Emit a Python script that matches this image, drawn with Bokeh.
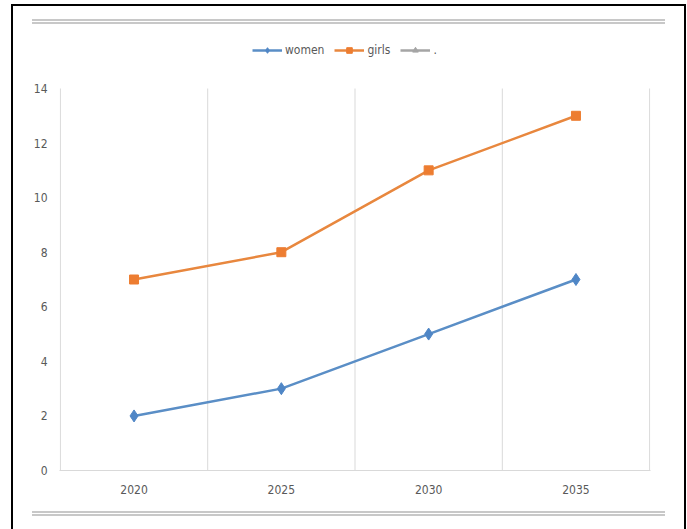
from bokeh.plotting import figure
from bokeh.models import (FixedTicker, Legend, LegendItem, Range1d, InlineStyleSheet)
from bokeh.embed import file_html
from bokeh.resources import INLINE

nan = float("nan")

# ---- data ----
years = ["2020", "2025", "2030", "2035"]
women = [2, 3, 5, 7]
girls = [7, 8, 11, 13]
third_series = [nan, nan, nan, nan]   # the "." series has no values
series_names = ["women", "girls", "."]
y_ticks = [0, 2, 4, 6, 8, 10, 12, 14]

FONT = "DejaVu Sans Condensed"
LABEL_COLOR = "#595959"
GRID = "#d9d9d9"

xs = [i + 0.5 for i in range(len(years))]
y_max = y_ticks[-1]
# the frame reaches above the value area so that the legend fits inside it
y_top = y_max * 440.0 / 382.0

p = figure(width=687, height=529, output_backend="svg", toolbar_location=None,
           x_range=Range1d(-0.006, len(years) + 0.006), y_range=Range1d(0, y_top),
           min_border_left=59, min_border_right=37, min_border_top=30,
           min_border_bottom=59)
p.outline_line_color = None
p.background_fill_color = "white"
p.border_fill_color = "white"
p.xgrid.grid_line_color = None
p.ygrid.grid_line_color = None

# vertical separators between categories, from 0 up to the top value
bounds = list(range(len(years) + 1))
p.segment(x0=bounds, y0=[0] * len(bounds), x1=bounds, y1=[y_max] * len(bounds),
          line_color=GRID, line_width=1)

# x axis
p.xaxis.ticker = FixedTicker(ticks=xs)
p.xaxis.major_label_overrides = {x: y for x, y in zip(xs, years)}
p.xaxis.axis_line_color = GRID
p.xaxis.major_tick_line_color = None
p.xaxis.minor_tick_line_color = None
p.xaxis.major_tick_out = 0
p.xaxis.major_tick_in = 0
p.xaxis.major_label_standoff = 14
p.xaxis.major_label_text_font = FONT
p.xaxis.major_label_text_font_size = "12px"
p.xaxis.major_label_text_color = LABEL_COLOR

# y axis
p.yaxis.ticker = FixedTicker(ticks=y_ticks)
p.yaxis.axis_line_color = None
p.yaxis.major_tick_line_color = None
p.yaxis.minor_tick_line_color = None
p.yaxis.major_tick_out = 0
p.yaxis.major_tick_in = 0
p.yaxis.major_label_standoff = 12
p.yaxis.major_label_text_font = FONT
p.yaxis.major_label_text_font_size = "12px"
p.yaxis.major_label_text_color = LABEL_COLOR

# series
l1 = p.line(xs, women, line_color="#5A8EC6", line_width=2.5)
m1 = p.scatter(xs, women, marker="diamond", size=12, fill_color="#4F86C6",
               line_color="#4F86C6")
l2 = p.line(xs, girls, line_color="#E8873E", line_width=2.5)
m2 = p.scatter(xs, girls, marker="square", size=9, fill_color="#ED7D31",
               line_color="#ED7D31")
l3 = p.line(xs, third_series, line_color="#A5A5A5", line_width=2.5)
m3 = p.scatter(xs, third_series, marker="triangle", size=8,
               fill_color="#A5A5A5", line_color="#A5A5A5")

legend = Legend(items=[
    LegendItem(label=series_names[0], renderers=[l1, m1]),
    LegendItem(label=series_names[1], renderers=[l2, m2]),
    LegendItem(label=series_names[2], renderers=[l3, m3]),
], orientation="horizontal", location=(193, 413))
legend.border_line_color = None
legend.background_fill_alpha = 0
legend.padding = 0
legend.margin = 0
legend.spacing = 10
legend.glyph_width = 30
legend.glyph_height = 14
legend.label_standoff = 3
legend.label_height = 14
legend.label_text_font = FONT
legend.label_text_font_size = "12px"
legend.label_text_color = LABEL_COLOR
p.add_layout(legend)

# decorative frame of the screenshot (document border, chart-area lines)
css = """
:host::before {
  content: ""; position: absolute; left: 11px; top: 4px; width: 671px; height: 540px;
  border: 2px solid #000; border-bottom: none; pointer-events: none; z-index: 5;
}
:host::after {
  content: ""; position: absolute; left: 32px; top: 19px; width: 633px; height: 487px;
  border-top: 5px double #c8c8c8; border-bottom: 5px double #c8c8c8;
  pointer-events: none; z-index: 5;
}
"""
p.stylesheets = [InlineStyleSheet(css=css)]

open("out.html", "w").write(file_html(p, INLINE))
